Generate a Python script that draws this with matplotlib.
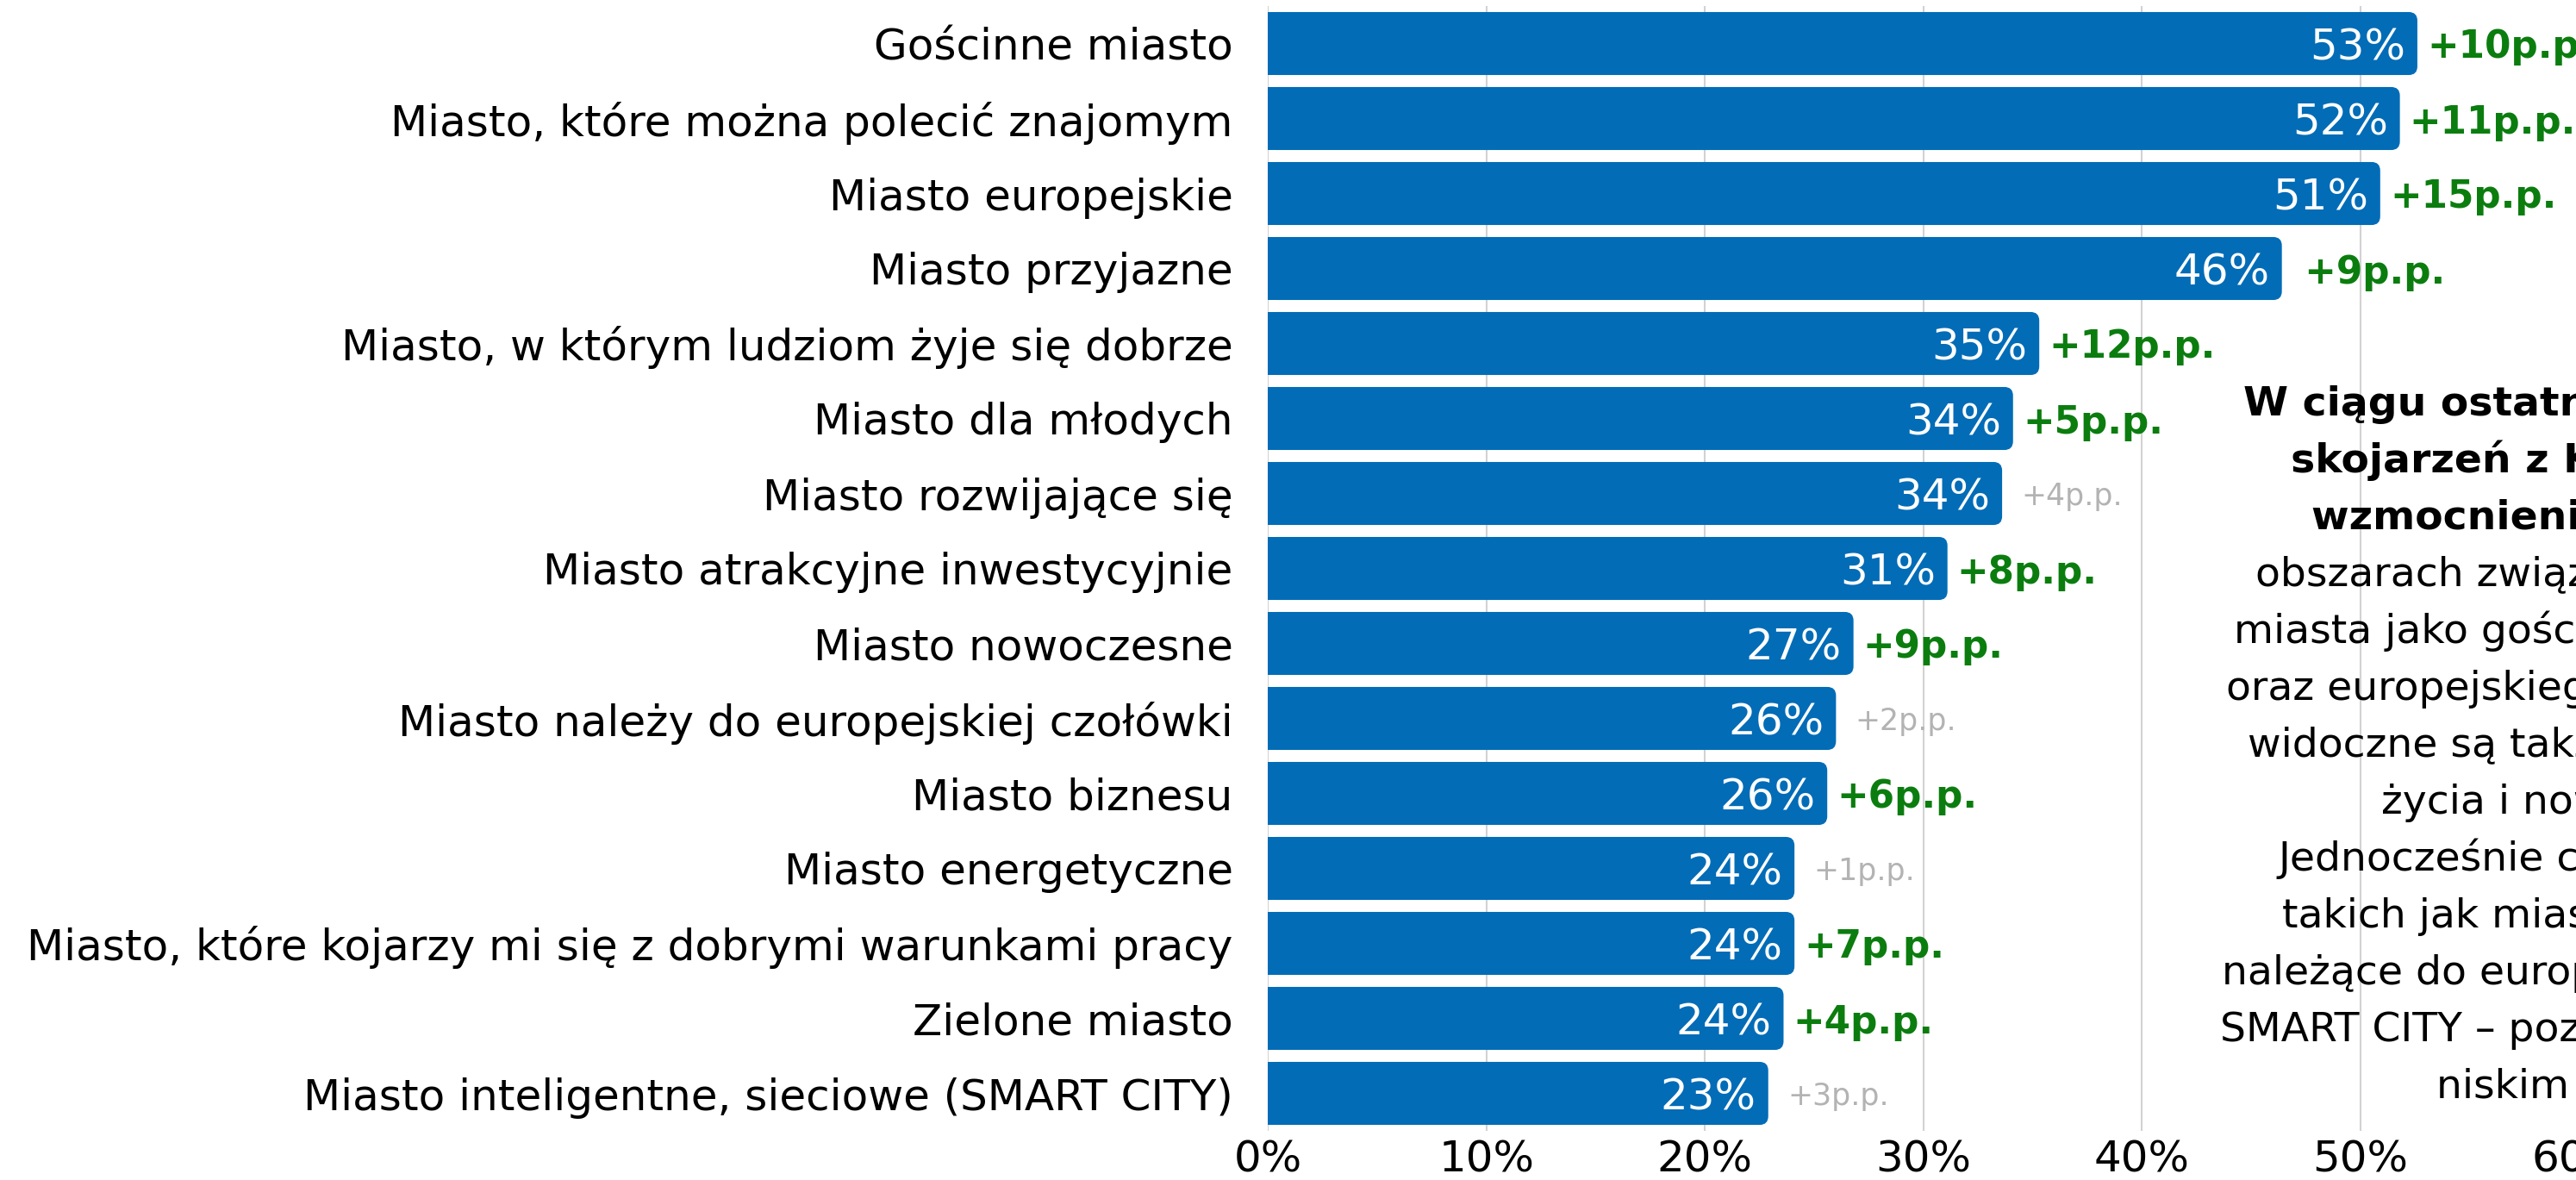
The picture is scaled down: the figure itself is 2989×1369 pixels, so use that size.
import numpy as np
import matplotlib
matplotlib.use("Agg")
import matplotlib.pyplot as plt
from matplotlib.patches import FancyBboxPatch, Rectangle

# data
categories = [
    "Gościnne miasto",
    "Miasto, które można polecić znajomym",
    "Miasto europejskie",
    "Miasto przyjazne",
    "Miasto, w którym ludziom żyje się dobrze",
    "Miasto dla młodych",
    "Miasto rozwijające się",
    "Miasto atrakcyjne inwestycyjnie",
    "Miasto nowoczesne",
    "Miasto należy do europejskiej czołówki",
    "Miasto biznesu",
    "Miasto energetyczne",
    "Miasto, które kojarzy mi się z dobrymi warunkami pracy",
    "Zielone miasto",
    "Miasto inteligentne, sieciowe (SMART CITY)",
]
values = [52.6, 51.8, 50.9, 46.4, 35.3, 34.1, 33.6, 31.1, 26.8, 26.0, 25.6, 24.1, 24.1, 23.6, 22.9]
changes = ["+10p.p.", "+11p.p.", "+15p.p.", " +9p.p.", "+12p.p.", "+5p.p.", "+4p.p.", "+8p.p.",
           "+9p.p.", "+2p.p.", "+6p.p.", "+1p.p.", "+7p.p.", "+4p.p.", "+3p.p."]
significant = [True, True, True, True, True, True, False, True,
               True, False, True, False, True, True, False]
x_ticks = [0, 10, 20, 30, 40, 50, 60]

note_lines = [
    "W ciągu ostatnich lat siła",
    "skojarzeń z Krakowem uległa",
    "wzmocnieniu, szczególnie w",
    "obszarach związanych z wizerunkiem",
    "miasta jako gościnnego, polecanego",
    "oraz europejskiego. Wyraźne wzrosty",
    "widoczne są także w ocenie jakości",
    "życia i nowoczesności.",
    "Jednocześnie część skojarzeń,",
    "takich jak miasto energetyczne,",
    "należące do europejskiej czołówki czy",
    "SMART CITY – pozostaje na relatywnie",
    "niskim poziomie.",
]
note_bold = [True, True, True] + [False] * 10
note_x = [2603, 2658, 2682, 2617, 2592, 2583, 2608, 2763, 2643, 2648, 2578, 2576, 2827]

W, H = 2989, 1369
BLUE = "#026cb7"
GREEN = "#0b7d0f"
GREY = "#b3b3b3"
FS = 36

plt.rcParams['font.family'] = ['DejaVu Sans']

fig = plt.figure(figsize=(W / 100, H / 100), dpi=100)
x0, x60 = 1471, 2992.6
top, bottom = 7, 1312
ax = fig.add_axes([x0 / W, 1 - bottom / H, (x60 - x0) / W, (bottom - top) / H])

n = len(categories)
y = np.arange(n)
bars = ax.barh(y, values, height=0.84, color=BLUE)
ax.set_xlim(0, 60)
ax.set_ylim(n - 0.5, -0.5)

# rounded right corners
px_x = (x60 - x0) / 60.0
px_y = (bottom - top) / n
for b in bars:
    bx, by, bw, bh = b.get_x(), b.get_y(), b.get_width(), b.get_height()
    b.set_visible(False)
    r = 10 / px_x
    ax.add_patch(FancyBboxPatch((bx, by), bw, bh,
                                boxstyle=f"round,pad=0,rounding_size={r}",
                                mutation_aspect=px_x / px_y,
                                fc=BLUE, ec="none", zorder=2))
    ax.add_patch(Rectangle((bx, by), bw / 2, bh, fc=BLUE, ec="none", zorder=2))

ax.set_xticks(x_ticks)
ax.set_xticklabels([f"{t}%" for t in x_ticks])
ax.set_yticks(y)
ax.set_yticklabels(categories)
ax.tick_params(axis='x', length=0, pad=7, labelsize=FS)
ax.tick_params(axis='y', length=0, pad=29, labelsize=FS)
ax.set_axisbelow(True)
ax.xaxis.grid(True, color="#d2d2d2", lw=1.5)
for s in ax.spines.values():
    s.set_visible(False)

for i, v in enumerate(values):
    ax.annotate(f"{v:.0f}%", (v, i), xytext=(-10, 0), textcoords="offset points",
                ha="right", va="center_baseline", color="white", fontsize=FS, zorder=3)
    if significant[i]:
        ax.annotate(changes[i], (v, i), xytext=(8, 0), textcoords="offset points",
                    ha="left", va="center_baseline", color=GREEN, fontsize=31.5,
                    fontweight="bold", zorder=3)
    else:
        ax.annotate(changes[i], (v, i), xytext=(16, 0), textcoords="offset points",
                    ha="left", va="center_baseline", color=GREY, fontsize=25, zorder=3)

# side note (cut by the right edge of the picture)
for k, line in enumerate(note_lines):
    yb = 482 + 66 * k
    fig.text(note_x[k] / W, 1 - yb / H, line, ha="left", va="baseline",
             fontsize=34, fontweight="bold" if note_bold[k] else "normal", color="black")

fig.savefig("out.png", dpi=100)
